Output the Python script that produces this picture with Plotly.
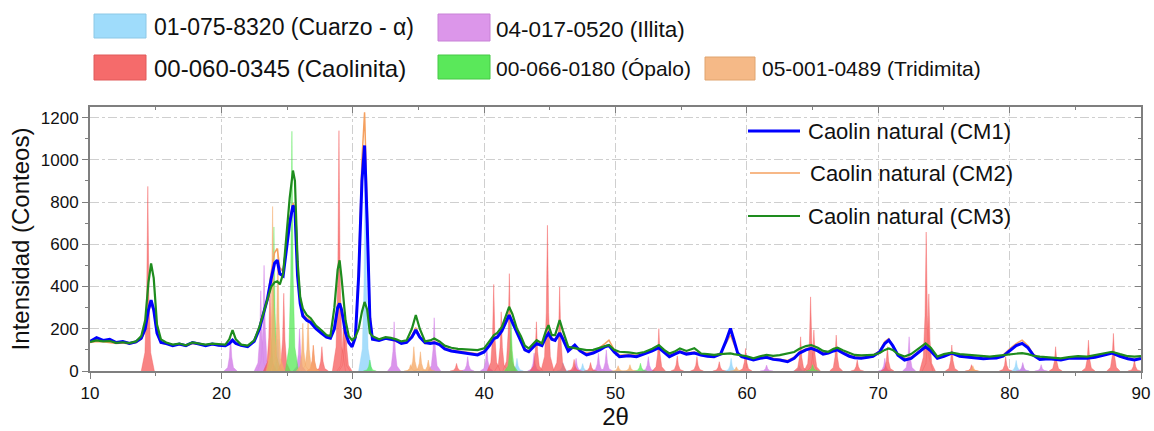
import plotly.graph_objects as go

# ---------------- data ----------------
two_theta = [10.0, 10.5, 11.0, 11.5, 12.0, 12.5, 13.0, 13.5, 13.9, 14.2, 14.45, 14.65, 14.85, 15.1, 15.4, 15.8,
             16.3, 16.8, 17.3, 17.8, 18.3, 18.8, 19.3, 19.8, 20.3, 20.6, 20.85, 21.1, 21.5, 22.0, 22.5, 22.9,
             23.2, 23.5, 23.8, 24.05, 24.25, 24.45, 24.7, 24.95, 25.2, 25.45, 25.6, 25.8, 26.0, 26.2, 26.5, 26.8,
             27.2, 27.6, 28.0, 28.3, 28.6, 28.85, 29.0, 29.15, 29.45, 29.7, 29.95, 30.2, 30.45, 30.7, 30.9, 31.1,
             31.3, 31.5, 32.0, 32.5, 32.9, 33.3, 33.7, 34.1, 34.5, 34.8, 35.1, 35.5, 35.9, 36.2, 36.6, 37.0,
             37.5, 38.0, 38.5, 39.0, 39.5, 40.0, 40.4, 40.75, 41.0, 41.35, 41.65, 41.9, 42.15, 42.5, 42.8, 43.1,
             43.4, 43.7, 44.0, 44.4, 44.7, 44.9, 45.15, 45.4, 45.75, 46.0, 46.4, 46.9, 47.3, 47.8, 48.3, 48.8,
             49.2, 49.5, 49.9, 50.3, 51.0, 51.6, 52.2, 52.8, 53.3, 53.7, 54.1, 54.5, 54.9, 55.4, 56.0, 56.5,
             57.0, 57.5, 58.0, 58.4, 58.75, 59.0, 59.3, 59.6, 60.0, 60.5, 61.0, 61.5, 62.0, 62.5, 63.1, 63.6,
             64.0, 64.5, 64.9, 65.4, 65.8, 66.2, 66.6, 66.9, 67.3, 67.8, 68.2, 68.7, 69.2, 69.6, 70.1, 70.5,
             70.8, 71.1, 71.5, 72.0, 72.5, 73.0, 73.6, 74.0, 74.5, 75.0, 75.6, 76.2, 76.8, 77.4, 78.0, 78.5,
             79.0, 79.5, 80.0, 80.5, 80.95, 81.4, 81.8, 82.3, 83.0, 83.9, 84.5, 85.2, 85.9, 86.5, 87.2, 87.8,
             88.4, 89.0, 89.5, 90.0]

cm1 = [140, 158, 145, 150, 135, 140, 130, 138, 155, 200, 290, 335, 290, 180, 135, 130,
       120, 128, 120, 135, 128, 120, 128, 122, 120, 130, 146, 130, 122, 115, 140, 200,
       270, 340, 440, 510, 525, 460, 450, 580, 700, 784, 760, 450, 320, 260, 240, 230,
       200, 180, 160, 155, 200, 300, 320, 290, 180, 135, 115, 160, 450, 900, 1068, 700,
       250, 150, 145, 155, 150, 145, 130, 135, 160, 194, 160, 134, 130, 134, 125, 105,
       95, 90, 88, 82, 76, 90, 120, 154, 160, 190, 230, 265, 230, 180, 140, 100,
       91, 110, 130, 120, 160, 178, 150, 145, 180, 150, 95, 123, 95, 76, 85, 100,
       115, 120, 90, 68, 72, 68, 80, 95, 110, 90, 68, 80, 91, 80, 85, 76,
       70, 68, 80, 140, 201, 150, 85, 68, 60, 52, 60, 65, 55, 52, 44, 60,
       85, 100, 107, 95, 80, 85, 95, 100, 85, 70, 63, 60, 65, 70, 90, 130,
       146, 120, 75, 52, 60, 85, 115, 95, 60, 70, 85, 70, 65, 60, 58, 60,
       62, 70, 95, 120, 131, 110, 75, 55, 58, 52, 60, 62, 60, 65, 75, 85,
       70, 58, 52, 60]

cm2 = [135, 140, 138, 135, 130, 132, 128, 135, 150, 190, 285, 320, 280, 175, 132, 128,
       122, 125, 118, 130, 125, 122, 125, 120, 122, 130, 150, 128, 120, 118, 140, 205,
       275, 340, 470, 560, 580, 490, 470, 600, 720, 795, 770, 470, 330, 270, 250, 240,
       205, 185, 165, 160, 210, 320, 335, 300, 190, 140, 120, 170, 500, 1000, 1225, 780,
       280, 160, 150, 152, 148, 140, 130, 138, 170, 205, 165, 130, 135, 140, 130, 110,
       100, 95, 92, 88, 82, 95, 125, 160, 165, 195, 240, 275, 240, 185, 145, 105,
       95, 115, 135, 125, 165, 185, 155, 150, 190, 160, 100, 110, 95, 85, 90, 110,
       130, 146, 100, 75, 78, 75, 85, 100, 115, 95, 75, 85, 95, 85, 90, 80,
       75, 72, 85, 130, 170, 130, 85, 70, 62, 55, 62, 68, 60, 55, 50, 65,
       90, 105, 112, 100, 85, 90, 100, 105, 90, 75, 68, 65, 68, 75, 95, 140,
       154, 125, 80, 58, 65, 90, 120, 100, 65, 75, 88, 75, 70, 65, 62, 63,
       65, 75, 105, 130, 146, 120, 80, 60, 62, 55, 62, 65, 63, 70, 80, 88,
       75, 62, 56, 62]

cm3 = [138, 145, 140, 142, 133, 136, 132, 140, 165, 240, 420, 509, 440, 220, 150, 135,
       125, 130, 122, 135, 130, 125, 130, 128, 125, 150, 194, 150, 125, 120, 145, 210,
       274, 330, 400, 420, 425, 410, 460, 640, 820, 949, 900, 520, 350, 296, 265, 250,
       215, 194, 170, 165, 300, 480, 524, 440, 240, 165, 146, 160, 200, 280, 327, 290,
       180, 165, 150, 160, 157, 150, 140, 145, 200, 265, 200, 140, 145, 154, 140, 120,
       110, 105, 103, 100, 99, 107, 140, 170, 180, 209, 260, 304, 270, 200, 165, 120,
       107, 125, 146, 131, 190, 217, 170, 170, 241, 190, 115, 108, 105, 99, 100, 110,
       120, 123, 100, 91, 88, 83, 90, 105, 123, 100, 83, 92, 107, 95, 108, 83,
       80, 76, 80, 82, 83, 80, 78, 76, 70, 60, 70, 76, 72, 75, 83, 90,
       105, 118, 123, 110, 95, 91, 105, 110, 98, 85, 76, 74, 76, 76, 85, 100,
       107, 100, 80, 68, 80, 105, 131, 110, 68, 80, 87, 80, 76, 72, 70, 68,
       72, 76, 80, 83, 85, 80, 72, 68, 65, 60, 66, 70, 68, 75, 85, 91,
       80, 70, 68, 70]

# reference patterns (PDF cards): peak positions (2θ) and heights
cuarzo_pos = [24.3, 30.95, 42.5, 46.0, 47.5, 58.8, 64.0, 80.5, 81.0]
cuarzo_h = [150, 1050, 60, 40, 35, 60, 25, 50, 30]

illita_pos = [20.7, 23.0, 23.25, 25.95, 33.15, 36.2, 38.75, 40.2, 43.8, 47.0, 48.7, 49.3, 52.5,
              61.5, 70.5, 72.35, 81.0, 82.4]
illita_h = [165, 380, 500, 200, 233, 252, 68, 120, 85, 60, 84, 99, 68, 28, 60, 162, 40, 30]

caolinita_pos = [14.4, 23.7, 24.75, 27.0, 27.65, 28.95, 29.3, 29.45, 37.9, 40.73, 41.3, 41.92, 43.98,
                 44.82, 45.75, 46.85, 48.1, 53.3, 54.7, 56.2, 57.9, 59.9, 64.09, 64.85, 65.1, 66.8,
                 68.4, 70.7, 73.65, 73.85, 75.6, 77.1, 79.7, 83.5, 86.0, 87.9, 89.5]
caolinita_h = [874, 400, 368, 120, 115, 1138, 250, 280, 36, 410, 280, 461, 233,
               690, 398, 55, 40, 201, 72, 68, 44, 107, 162, 351, 194, 170,
               52, 115, 658, 365, 123, 30, 68, 115, 146, 178, 52]

opalo_pos = [24.0, 25.37, 31.3, 42.05, 51.9, 65.0]
opalo_h = [682, 1135, 52, 240, 37, 30]

tridimita_pos = [23.9, 24.3, 26.2, 26.6, 27.0, 34.4, 34.65, 35.15, 35.75, 50.2, 51.1, 59.2, 77.2]
tridimita_h = [779, 580, 226, 257, 123, 30, 115, 91, 52, 25, 30, 20, 25]

phase_names = ["01-075-8320 (Cuarzo - α)", "04-017-0520 (Illita)", "00-060-0345 (Caolinita)",
               "00-066-0180 (Ópalo)", "05-001-0489 (Tridimita)"]
sample_names = ["Caolin natural (CM1)", "Caolin natural (CM2)", "Caolin natural (CM3)"]

# ---------------- style ----------------
FONT = "Liberation Sans, Arial, sans-serif"
phase_fill = ["rgba(150,215,250,0.85)", "rgba(212,130,232,0.85)", "rgba(245,85,85,0.72)",
              "rgba(80,232,80,0.72)", "rgba(245,170,105,0.80)"]
phase_swatch = ["#9fdcfb", "#dc96ea", "#f56b6b", "#5ae85a", "#f5b987"]
phase_edge = ["#8cc8e6", "#c882d6", "#e05a5a", "#46c846", "#e0a46e"]
line_colors = ["#0000ff", "#f5a05f", "#1e8c1e"]
line_widths = [3.0, 1.5, 2.2]

# peak profile template (relative offset in 2θ, fraction of height) -- drawing style only
PROF_DX = [-0.5, -0.22, -0.09, 0.0, 0.09, 0.22, 0.5]
PROF_FR = [0.0, 0.10, 0.40, 1.0, 0.40, 0.10, 0.0]


def peak_polys(pos, h):
    xs, ys = [], []
    for p, hh in zip(pos, h):
        xs += [p + d for d in PROF_DX] + [None]
        ys += [hh * f for f in PROF_FR] + [None]
    return xs, ys


fig = go.Figure()

phases = [(cuarzo_pos, cuarzo_h), (illita_pos, illita_h), (caolinita_pos, caolinita_h),
          (opalo_pos, opalo_h), (tridimita_pos, tridimita_h)]
for i, (pp, hh) in enumerate(phases):
    xs, ys = peak_polys(pp, hh)
    fig.add_trace(go.Scatter(x=xs, y=ys, mode="lines", fill="toself", fillcolor=phase_fill[i],
                             line=dict(width=0.5, color=phase_fill[i]), name=phase_names[i],
                             showlegend=False, hoverinfo="skip"))

for name, ys, c, w in [(sample_names[1], cm2, line_colors[1], line_widths[1]),
                       (sample_names[0], cm1, line_colors[0], line_widths[0]),
                       (sample_names[2], cm3, line_colors[2], line_widths[2])]:
    fig.add_trace(go.Scatter(x=two_theta, y=ys, mode="lines", name=name,
                             line=dict(color=c, width=w), showlegend=False))

# ---------------- layout ----------------
W, H = 1154, 431
L, R, T, B = 90, 13, 107, 60
PW, PH = W - L - R, H - T - B


def px(x):
    return (x - L) / PW


def py(y):
    return (H - B - y) / PH


axis_col = "#7f7f7f"
grid_col = "#cfcfcf"

fig.update_layout(
    width=W, height=H, autosize=False,
    margin=dict(l=L, r=R, t=T, b=B, autoexpand=False),
    paper_bgcolor="white", plot_bgcolor="white",
    font=dict(family=FONT, color="#111111"),
    showlegend=False,
    xaxis=dict(range=[10, 90], tickmode="linear", tick0=10, dtick=10, automargin=False,
               ticks="outside", ticklen=6, tickwidth=1.2, tickcolor=axis_col,
               minor=dict(dtick=5, ticks="outside", ticklen=3, tickcolor=axis_col, showgrid=False),
               showline=True, linecolor=axis_col, linewidth=2,
               showgrid=True, gridcolor=grid_col, griddash="dashdot", gridwidth=1,
               zeroline=False, tickfont=dict(size=17, family=FONT),
               title=dict(text="2θ", font=dict(size=24, family=FONT), standoff=3)),
    yaxis=dict(range=[0, 1250], tickmode="linear", tick0=0, dtick=200, automargin=False,
               ticks="outside", ticklen=6, tickwidth=1.2, tickcolor=axis_col,
               minor=dict(dtick=100, ticks="outside", ticklen=3, tickcolor=axis_col, showgrid=False),
               showline=True, linecolor=axis_col, linewidth=2,
               showgrid=True, gridcolor=grid_col, griddash="dashdot", gridwidth=1,
               zeroline=False, tickfont=dict(size=17, family=FONT),
               title=dict(text="Intensidad (Conteos)", font=dict(size=24, family=FONT), standoff=4)),
    xaxis2=dict(range=[10, 90], overlaying="x", side="top", matches="x", automargin=False,
                tickmode="linear", tick0=10, dtick=10, ticks="inside", ticklen=6,
                tickcolor=axis_col, showticklabels=False, showline=True, linecolor=axis_col,
                linewidth=2, showgrid=False, zeroline=False,
                minor=dict(dtick=5, ticks="inside", ticklen=3, tickcolor=axis_col)),
    yaxis2=dict(range=[0, 1250], overlaying="y", side="right", matches="y", automargin=False,
                tickmode="linear", tick0=0, dtick=200, ticks="inside", ticklen=6,
                tickcolor=axis_col, showticklabels=False, showline=True, linecolor=axis_col,
                linewidth=2, showgrid=False, zeroline=False,
                minor=dict(dtick=100, ticks="inside", ticklen=3, tickcolor=axis_col)),
)
# dummy trace to activate the mirror axes
fig.add_trace(go.Scatter(x=[None], y=[None], xaxis="x2", yaxis="y2", showlegend=False,
                         hoverinfo="skip"))

shapes = []
annotations = []

# top legend for the reference cards: (phase index, swatch x0, x1, y0, y1, text x, text y, font size)
top_legend = [(0, 94, 146, 14, 38, 152, 27, 23),
              (1, 438, 490, 14, 41, 494, 29, 22.5),
              (2, 94, 146, 55, 80, 152, 68, 24),
              (3, 438, 490, 55, 79, 494, 68, 21),
              (4, 705, 755, 57, 80, 760, 69, 21)]
for i, x0, x1, y0, y1, tx, ty, fs in top_legend:
    shapes.append(dict(type="rect", xref="paper", yref="paper", x0=px(x0), x1=px(x1),
                       y0=py(y1), y1=py(y0), fillcolor=phase_swatch[i],
                       line=dict(color=phase_edge[i], width=1), layer="above"))
    annotations.append(dict(xref="paper", yref="paper", x=px(tx), y=py(ty), xanchor="left",
                            yanchor="middle", text=phase_names[i], showarrow=False,
                            font=dict(size=fs, family=FONT, color="#111111")))

# in-plot legend for the measured samples
in_legend = [(0, 748, 800, 131, 806), (1, 750, 800, 173, 808), (2, 748, 800, 216, 806)]
for i, x0, x1, y, tx in in_legend:
    shapes.append(dict(type="line", xref="paper", yref="paper", x0=px(x0), x1=px(x1),
                       y0=py(y), y1=py(y), line=dict(color=line_colors[i], width=line_widths[i]),
                       layer="above"))
    annotations.append(dict(xref="paper", yref="paper", x=px(tx), y=py(y), xanchor="left",
                            yanchor="middle", text=sample_names[i], showarrow=False,
                            font=dict(size=22, family=FONT, color="#111111")))

fig.update_layout(shapes=shapes, annotations=annotations)

fig.write_html("out.html", config={"displayModeBar": False},
               post_script="document.body.style.margin='0';document.body.style.overflow='hidden';")
